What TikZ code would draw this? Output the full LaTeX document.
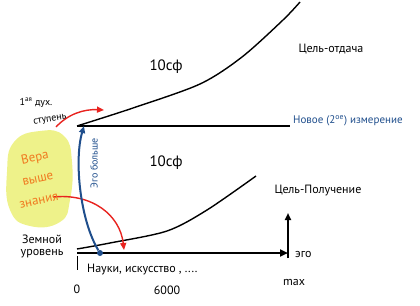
\documentclass[tikz,border=0pt]{standalone}
\usepackage{fontspec}
\setmainfont{PT Sans}
\usetikzlibrary{arrows.meta}
\definecolor{inkblue}{HTML}{1F4E8C}
\definecolor{inkred}{HTML}{E8231F}
\definecolor{inkorange}{HTML}{F07A20}
\definecolor{blobyellow}{HTML}{EEF28A}
\begin{document}
\begin{tikzpicture}[x=1pt,y=-1pt,
  lbl/.style={font=\fontsize{12}{13}\selectfont, inner sep=1pt},
  smalllbl/.style={font=\fontsize{10}{11}\selectfont, inner sep=1pt},
  biglbl/.style={font=\fontsize{15}{16}\selectfont, inner sep=1pt},
  faithlbl/.style={font=\fontsize{13}{14}\selectfont, inner sep=0.5pt, text=inkorange, rotate=12},
  axisline/.style={line width=2.5pt},
  curveline/.style={line width=1.4pt},
  redarrow/.style={inkred, line width=1.4pt, -{Triangle[length=7pt,width=6pt]}},
  bluearrow/.style={inkblue, line width=2pt, -{Triangle[length=7pt,width=6pt]}},
  blackarrow/.style={line width=2pt, -{Triangle[length=7pt,width=6pt]}}]
\useasboundingbox (0,0) rectangle (420,305);
% yellow blob
\fill[blobyellow] plot[smooth cycle, tension=0.8] coordinates {(14,142) (40,131) (64,136) (72,162) (70,200) (60,222) (30,226) (10,210) (7,172)};
% coordinates
\coordinate (o1) at (77,126);
\coordinate (m2) at (290,126);
\coordinate (o0) at (77,253);
\coordinate (ego) at (288,253);
\coordinate (egotop) at (288,213);
\coordinate (egobase) at (288,258);
\coordinate (tick0) at (77,256);
\coordinate (tick1) at (77,270);
\coordinate (topend) at (300,2);
\coordinate (lowend) at (256,176);
% upper curve
\draw[curveline] plot[smooth] coordinates {(o1) (133,108) (200,84) (242,57) (283,20) (topend)};
% lower curve
\draw[curveline] plot[smooth] coordinates {(77,249) (110,243) (167,231) (207,210) (lowend)};
% middle line
\draw[axisline] (o1) -- (m2);
% bottom axis
\draw[axisline, -{Triangle[length=8pt,width=7pt]}] (o0) -- (ego);
\draw[blackarrow] (egobase) -- (egotop);
\draw[line width=1pt] (tick0) -- (tick1);
% red arrows
\coordinate (r1s) at (56,127);
\coordinate (r1e) at (104,110);
\draw[redarrow] (r1s) .. controls (68,114) and (84,109) .. (r1e);
\coordinate (r2s) at (53,197);
\coordinate (r2e) at (124,250);
\draw[redarrow] (r2s) .. controls (92,193) and (120,215) .. (r2e);
% blue arrow
\node[circle, fill=inkblue, inner sep=0pt, minimum size=6pt] (dot) at (100,253) {};
\coordinate (btop) at (84,126);
\draw[bluearrow] (dot) .. controls (80,220) and (74,160) .. (btop);
% labels
\node[biglbl] (sf1) at (166,67) {10сф};
\node[biglbl] (sf2) at (166,163) {10сф};
\node[lbl] (goal1) at (331,49) {Цель-отдача};
\node[lbl] (goal2) at (318,191) {Цель-Получение};
\node[lbl, anchor=west, text=inkblue, font=\fontsize{11}{12}\selectfont] (newdim) at (292,121) {Новое (2\textsuperscript{ое}) измерение};
\node[smalllbl, rotate=90, text=inkblue] (egomore) at (94,163) {Эго больше};
\node[faithlbl] (faith1) at (35,158) {Вера};
\node[faithlbl] (faith2) at (38,179) {выше};
\node[faithlbl] (faith3) at (39,201) {знания};
\node[smalllbl] (step1a) at (36,103) {1\textsuperscript{ая} дух.};
\node[smalllbl, rotate=10] (step1b) at (50,120) {ступень};
\node[lbl] (earth1) at (42,239) {Земной};
\node[lbl] (earth2) at (42,254) {уровень};
\node[lbl, anchor=west] (sci) at (86,270) {Науки, искусство , ....};
\node[lbl] (six) at (167,290) {6000};
\node[lbl] (zero) at (77,289) {0};
\node[lbl] (maxl) at (294,282) {max};
\node[lbl, anchor=west] (egol) at (294,254) {эго};
\end{tikzpicture}
\end{document}
